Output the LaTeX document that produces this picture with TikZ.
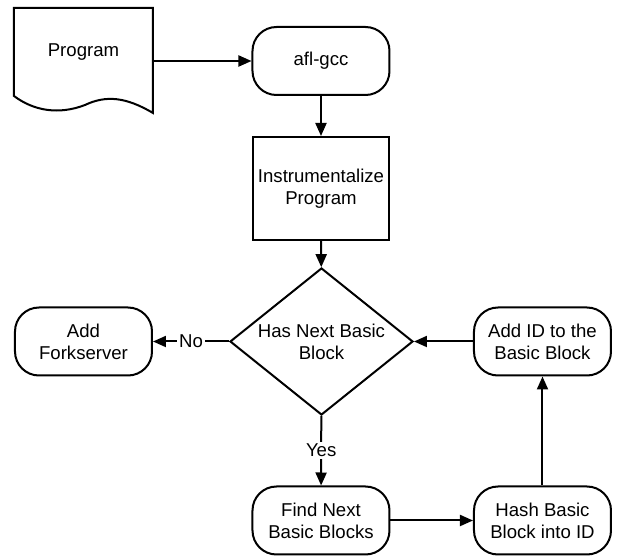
\documentclass[tikz,border=0pt]{standalone}
\usepackage{fontspec}
\setmainfont{Liberation Sans}
\usepackage{tikz}
\usetikzlibrary{calc, shapes.geometric, positioning, arrows.meta}

\begin{document}
\begin{tikzpicture}[
        x=0.5pt, y=-0.5pt,
        line width=1pt,
        every node/.style={font=\fontsize{9.3}{11}\selectfont, align=center},
        doc/.style={minimum width=68.5pt, minimum height=43pt, inner sep=0pt, anchor=center},
        term/.style={draw, rounded corners=12pt, minimum width=68.5pt, minimum height=34pt, inner sep=0pt, anchor=center},
        proc/.style={draw, minimum width=68pt, minimum height=51.5pt, inner sep=0pt, anchor=center},
        decision/.style={draw, diamond, aspect=1.245, minimum width=91.5pt, minimum height=73.5pt, inner sep=0pt, anchor=center},
        arr/.style={-{Triangle[length=6.5pt, width=5.5pt]}},
        lbl/.style={fill=white, inner sep=1pt}
    ]
        \useasboundingbox (0,0) rectangle (618,556);

        \node[doc] (prog) at (83.5,52) {Program};
        \draw (prog.south west) -- (prog.north west) -- (prog.north east) -- ($(prog.south east)+(0,17)$)
            .. controls ($(prog.south east)+(-27,1)$) and ($(prog.south east)+(-47,-1)$) .. ($(prog.south east)+(-68,9)$)
            .. controls ($(prog.south west)+(45,19)$) and ($(prog.south west)+(20,15)$) .. cycle;

        \node[term] (gcc) at (321,61) {afl-gcc};
        \node[proc] (instr) at (321,188.5) {Instrumentalize\\Program};
        \node[decision] (next) at (321.5,341.5) {Has Next Basic\\Block};
        \node[term] (fork) at (83.5,341.5) {Add\\Forkserver};
        \node[term] (addid) at (542.5,341.5) {Add ID to the\\Basic Block};
        \node[term] (find) at (321,520.5) {Find Next\\Basic Blocks};
        \node[term] (hash) at (542.5,520.5) {Hash Basic\\Block into ID};

        \draw[arr] (prog.east |- gcc.west) -- (gcc.west);
        \draw[arr] (gcc) -- (instr);
        \draw[arr] (instr) -- (next);
        \draw[arr] (next) -- node[lbl] {No} (fork);
        \draw[arr] (next) -- node[lbl] {Yes} (find);
        \draw[arr] (find) -- (hash);
        \draw[arr] (hash) -- (addid);
        \draw[arr] (addid) -- (next);

    \end{tikzpicture}
\end{document}
